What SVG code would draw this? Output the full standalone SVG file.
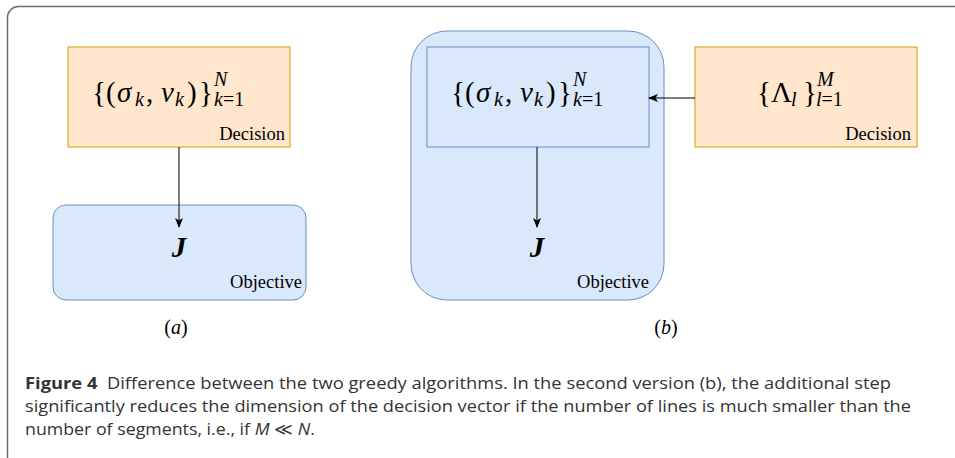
<svg xmlns="http://www.w3.org/2000/svg" width="955" height="458" viewBox="0 0 955 458">
<defs>
<style>
.dec{fill:#ffe6cc;stroke:#d79b00;stroke-width:1}
.obj{fill:#dae8fc;stroke:#6c8ebf;stroke-width:1}
.m{font-family:"Liberation Serif","Times New Roman",serif;fill:#000;font-size:29px}
.i{font-style:italic}
.s{font-family:"Liberation Serif","Times New Roman",serif;fill:#000;font-size:20px}
.lbl{font-family:"Liberation Serif","Times New Roman",serif;font-size:18.5px;fill:#000;text-anchor:end}
.J{font-family:"Liberation Serif","Times New Roman",serif;font-size:29px;font-style:italic;font-weight:bold;text-anchor:middle}
.cap{font-family:"Open Sans","Noto Sans",sans-serif;font-size:16.8px;fill:#333}
.conn{stroke:#000;stroke-width:1;fill:none}
</style>
<marker id="arr" viewBox="0 0 10 10" refX="9" refY="5" markerWidth="10" markerHeight="10" markerUnits="userSpaceOnUse" orient="auto">
<path d="M0,1 L10,5 L0,9 L2.5,5 Z" fill="#000"/>
</marker>
</defs>
<rect width="955" height="458" fill="#fff"/>
<rect x="7.5" y="6.5" width="1000" height="470" rx="11" fill="none" stroke="#6b6b6b" stroke-width="1.5"/>

<g id="left-decision">
<rect class="dec" x="68" y="47" width="222" height="100"/>
<text class="m" x="92" y="102">{</text>
<text class="m" x="106" y="102">(</text>
<text class="m i" x="117" y="102">σ</text>
<text class="s i" x="135" y="106">k</text>
<text class="m" x="146" y="102">,</text>
<text class="m i" x="161" y="102">v</text>
<text class="s i" x="175" y="106">k</text>
<text class="m" x="187" y="102">)</text>
<text class="m" x="199" y="102">}</text>
<text class="s i" x="214" y="86">N</text>
<text class="s" x="214" y="106"><tspan class="i">k</tspan>=1</text>
<text class="lbl" x="285" y="140">Decision</text>
</g>

<g id="left-objective">
<rect class="obj" x="53" y="205" width="253" height="95" rx="13"/>
<text class="J" x="179" y="257">J</text>
<text class="lbl" x="302" y="288">Objective</text>
</g>

<g id="right-objective">
<rect class="obj" x="411" y="31" width="253" height="269" rx="36"/>
<text class="J" x="537" y="257">J</text>
<text class="lbl" x="649" y="288">Objective</text>
</g>

<g id="right-inner">
<rect class="obj" x="427" y="47" width="222" height="100"/>
<text class="m" x="451" y="102">{</text>
<text class="m" x="465" y="102">(</text>
<text class="m i" x="476" y="102">σ</text>
<text class="s i" x="494" y="106">k</text>
<text class="m" x="505" y="102">,</text>
<text class="m i" x="520" y="102">v</text>
<text class="s i" x="534" y="106">k</text>
<text class="m" x="546" y="102">)</text>
<text class="m" x="558" y="102">}</text>
<text class="s i" x="573" y="86">N</text>
<text class="s" x="573" y="106"><tspan class="i">k</tspan>=1</text>
</g>

<g id="right-decision">
<rect class="dec" x="695" y="47" width="222" height="100"/>
<text class="m" x="757" y="102">{</text>
<text class="m" x="771" y="102">Λ</text>
<text class="s i" x="791" y="106">l</text>
<text class="m" x="803" y="102">}</text>
<text class="s i" x="817" y="86">M</text>
<text class="s" x="816" y="106"><tspan class="i">l</tspan>=1</text>
<text class="lbl" x="911" y="140">Decision</text>
</g>

<g id="connectors">
<line class="conn" x1="179" y1="147" x2="179" y2="227" marker-end="url(#arr)"/>
<line class="conn" x1="537" y1="147" x2="537" y2="227" marker-end="url(#arr)"/>
<line class="conn" x1="695" y1="98" x2="649" y2="98" marker-end="url(#arr)"/>
</g>

<g id="sublabels">
<text class="s" x="176" y="334" font-size="19px" text-anchor="middle">(<tspan class="i">a</tspan>)</text>
<text class="s" x="666" y="334" font-size="19px" text-anchor="middle">(<tspan class="i">b</tspan>)</text>
</g>

<g id="caption">
<text class="cap" x="25" y="389" textLength="866" lengthAdjust="spacingAndGlyphs"><tspan font-weight="bold">Figure 4</tspan>&#160; Difference between the two greedy algorithms. In the second version (b), the additional step</text>
<text class="cap" x="25" y="412" textLength="886" lengthAdjust="spacingAndGlyphs">significantly reduces the dimension of the decision vector if the number of lines is much smaller than the</text>
<text class="cap" x="25" y="435" textLength="290" lengthAdjust="spacingAndGlyphs">number of segments, i.e., if <tspan class="i">M</tspan> ≪ <tspan class="i">N</tspan>.</text>
</g>
</svg>
